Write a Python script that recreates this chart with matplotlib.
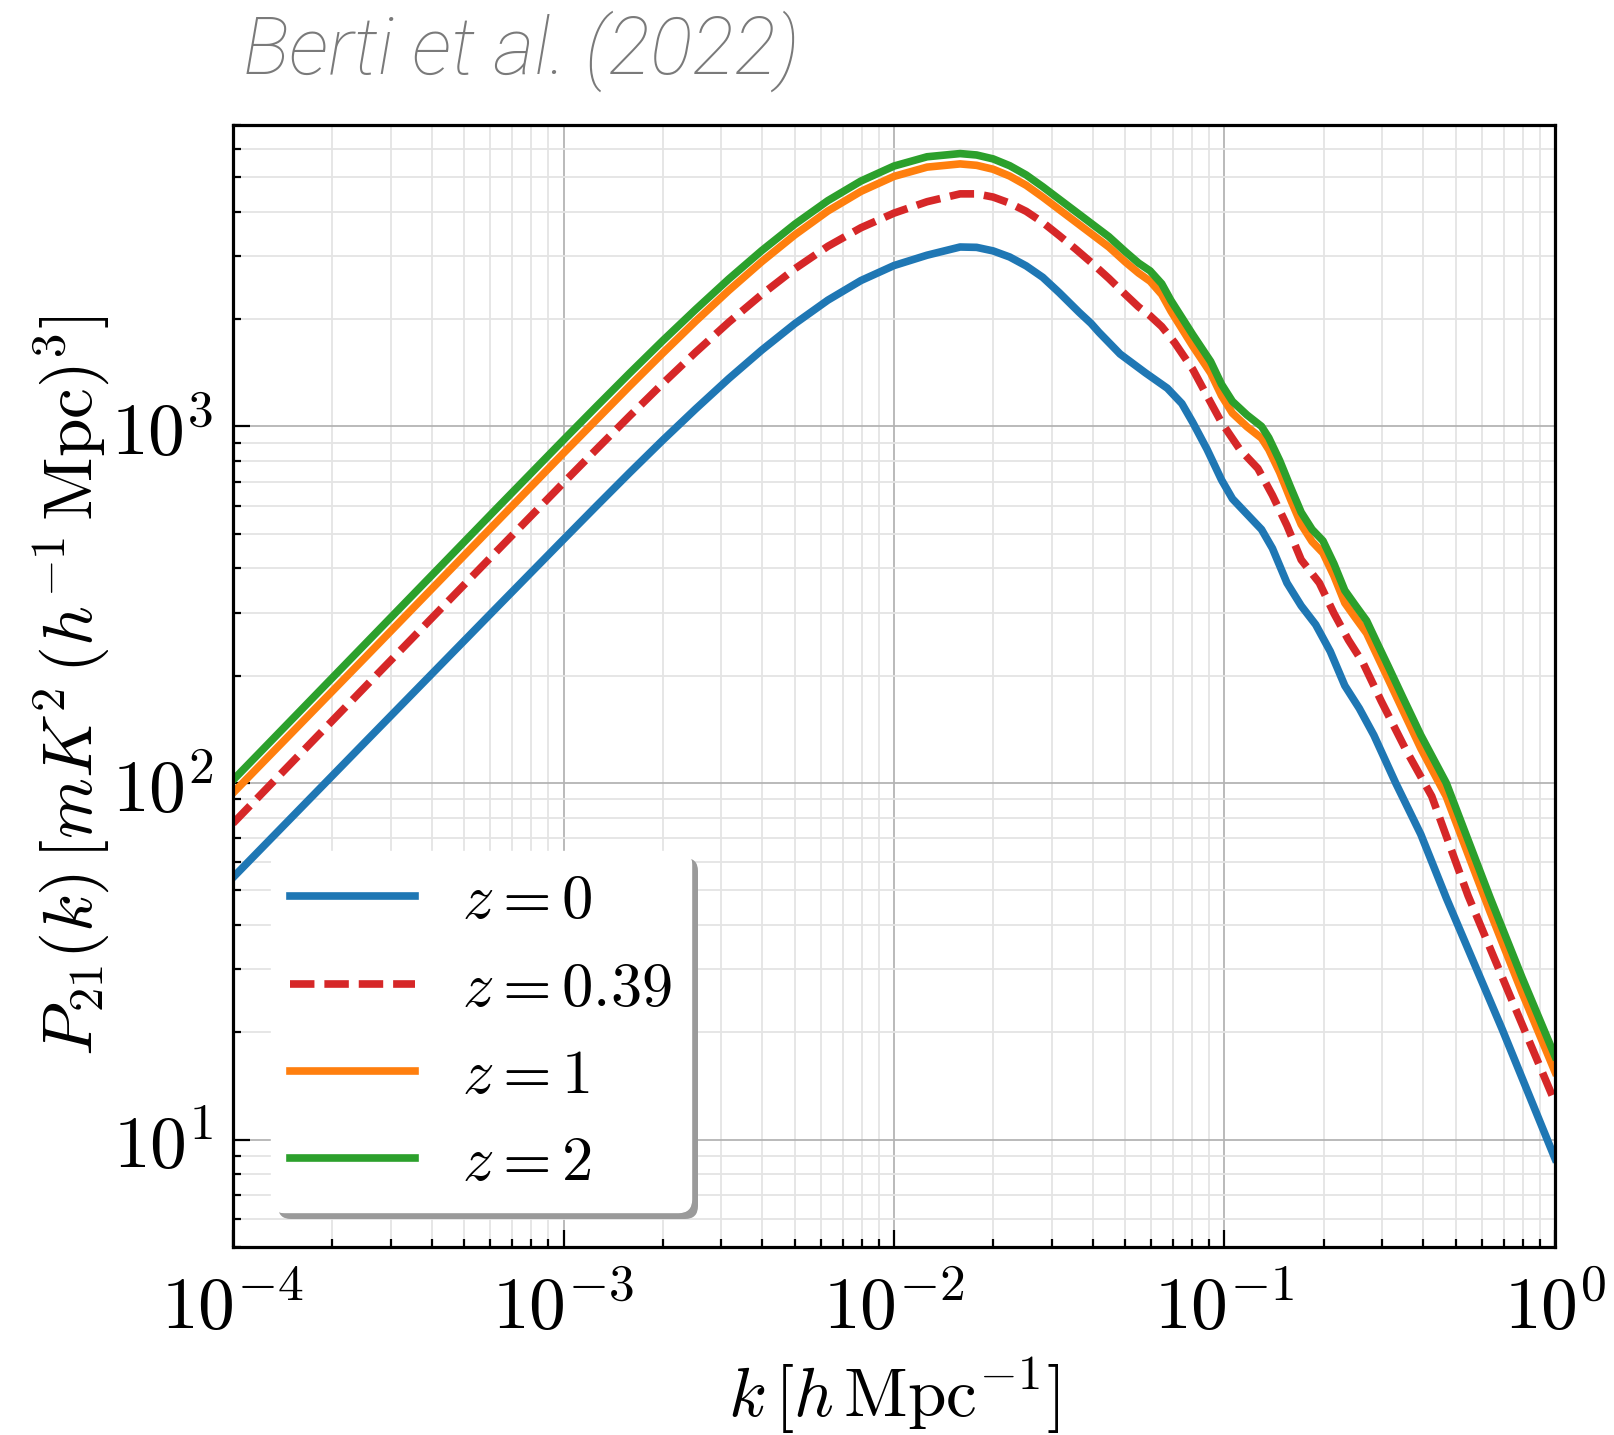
import numpy as np
import matplotlib
matplotlib.use("Agg")
import matplotlib.pyplot as plt
import matplotlib.patheffects as pe
from matplotlib.ticker import FuncFormatter

plt.rcParams["mathtext.fontset"] = "cm"
plt.rcParams["font.family"] = "serif"

# Curvas: log10(k [h/Mpc]) y log10(P21)
logk_z0 = [-4.0, -3.6, -3.2, -3.0, -2.9, -2.8, -2.7, -2.6, -2.5, -2.4, -2.3, -2.2,
           -2.1, -2.0, -1.9, -1.8, -1.75, -1.7, -1.65, -1.6, -1.55, -1.5, -1.44,
           -1.404, -1.38, -1.316, -1.239, -1.173, -1.129, -1.096, -1.053, -1.009,
           -0.976, -0.932, -0.888, -0.855, -0.811, -0.768, -0.724, -0.680, -0.636,
           -0.592, -0.548, -0.482, -0.406, -0.329, -0.16, 0.0]
logp_z0 = [1.735, 2.115, 2.494, 2.683, 2.777, 2.870, 2.961, 3.049, 3.134, 3.214,
           3.288, 3.354, 3.409, 3.451, 3.480, 3.503, 3.502, 3.492, 3.475, 3.45,
           3.418, 3.375, 3.32, 3.289, 3.264, 3.203, 3.150, 3.107, 3.064, 3.011,
           2.936, 2.850, 2.797, 2.754, 2.711, 2.658, 2.561, 2.497, 2.444, 2.369,
           2.273, 2.209, 2.134, 2.0, 1.856, 1.678, 1.31, 0.947]

logk_z039 = [-4.0, -3.6, -3.2, -3.0, -2.9, -2.8, -2.7, -2.6, -2.5, -2.4, -2.3, -2.2,
             -2.1, -2.0, -1.9, -1.8, -1.75, -1.7, -1.65, -1.6, -1.55, -1.5, -1.45,
             -1.4, -1.35, -1.3, -1.26, -1.225, -1.19, -1.151, -1.096, -1.053,
             -1.009, -0.954, -0.899, -0.855, -0.811, -0.768, -0.713, -0.669,
             -0.625, -0.581, -0.526, -0.450, -0.373, -0.263, -0.13, 0.0]
logp_z039 = [1.887, 2.27, 2.652, 2.842, 2.936, 3.029, 3.12, 3.208, 3.292, 3.37,
             3.442, 3.505, 3.557, 3.598, 3.63, 3.652, 3.652, 3.643, 3.626, 3.603,
             3.572, 3.535, 3.497, 3.457, 3.415, 3.37, 3.335, 3.31, 3.28, 3.235,
             3.160, 3.086, 3.011, 2.936, 2.882, 2.807, 2.722, 2.626, 2.561, 2.476,
             2.401, 2.337, 2.230, 2.091, 1.963, 1.684, 1.39, 1.105]

logk_z1 = [-4.0, -3.6, -3.2, -3.0, -2.9, -2.8, -2.7, -2.6, -2.5, -2.4, -2.3, -2.2,
           -2.1, -2.0, -1.9, -1.8, -1.75, -1.7, -1.65, -1.6, -1.55, -1.5, -1.45,
           -1.4, -1.35, -1.3, -1.26, -1.225, -1.19, -1.162, -1.096, -1.042, -1.009,
           -0.976, -0.932, -0.888, -0.866, -0.833, -0.800, -0.768, -0.735, -0.702,
           -0.669, -0.636, -0.603, -0.570, -0.537, -0.504, -0.461, -0.406, -0.329,
           -0.263, -0.197, -0.1, 0.0]
logp_z1 = [1.972, 2.352, 2.734, 2.925, 3.019, 3.113, 3.205, 3.295, 3.381, 3.462,
           3.537, 3.604, 3.659, 3.701, 3.727, 3.736, 3.732, 3.721, 3.702, 3.676,
           3.643, 3.608, 3.573, 3.538, 3.503, 3.461, 3.43, 3.407, 3.37, 3.323,
           3.225, 3.15, 3.086, 3.037, 2.999, 2.967, 2.935, 2.871, 2.795, 2.725,
           2.677, 2.645, 2.581, 2.505, 2.462, 2.42, 2.355, 2.29, 2.205, 2.097,
           1.962, 1.80, 1.64, 1.413, 1.19]

logk_z2 = [-4.0, -3.6, -3.2, -3.0, -2.9, -2.8, -2.7, -2.6, -2.5, -2.4, -2.3, -2.2,
           -2.1, -2.0, -1.9, -1.8, -1.75, -1.7, -1.65, -1.6, -1.55, -1.5, -1.45,
           -1.4, -1.35, -1.3, -1.26, -1.225, -1.19, -1.162, -1.096, -1.042, -1.009,
           -0.976, -0.932, -0.888, -0.866, -0.833, -0.800, -0.768, -0.735, -0.702,
           -0.669, -0.636, -0.603, -0.570, -0.537, -0.504, -0.461, -0.406, -0.329,
           -0.263, -0.197, -0.1, 0.0]
logp_z2 = [2.008, 2.390, 2.772, 2.962, 3.056, 3.149, 3.240, 3.328, 3.413, 3.493,
           3.567, 3.633, 3.688, 3.730, 3.756, 3.765, 3.761, 3.750, 3.731, 3.705,
           3.672, 3.637, 3.602, 3.567, 3.532, 3.49, 3.458, 3.436, 3.40, 3.353,
           3.257, 3.182, 3.118, 3.070, 3.032, 3.0, 2.968, 2.904, 2.829, 2.759,
           2.711, 2.679, 2.615, 2.540, 2.497, 2.455, 2.390, 2.326, 2.241, 2.134,
           2.0, 1.84, 1.68, 1.455, 1.234]

labels = [r"$z = 0$", r"$z = 0.39$", r"$z = 1$", r"$z = 2$"]
colores = ["#1f77b4", "#d62728", "#ff7f0e", "#2ca02c"]
estilos = ["-", (0, (3.2, 1.3)), "-", "-"]
curvas = [(logk_z0, logp_z0), (logk_z039, logp_z039), (logk_z1, logp_z1), (logk_z2, logp_z2)]

fig = plt.figure(figsize=(16.15, 14.35), dpi=100)
ax = fig.add_axes([233 / 1615, 1 - 1247 / 1435, 1322 / 1615, 1122 / 1435])

for (lk, lp), lab, c, ls in zip(curvas, labels, colores, estilos):
    ax.plot(10 ** np.array(lk), 10 ** np.array(lp), color=c, ls=ls, lw=5.5,
            label=lab, solid_joinstyle="round")

ax.set_xscale("log")
ax.set_yscale("log")
ax.set_xlim(1e-4, 1)
ax.set_ylim(5, 7e3)

potencia = FuncFormatter(lambda v, pos: r"$10^{%d}$" % round(np.log10(v)))
ax.xaxis.set_major_formatter(potencia)
ax.yaxis.set_major_formatter(potencia)

ax.grid(which="major", color="#b4b4b4", lw=1.3)
ax.grid(which="minor", color="#e4e4e4", lw=1.3)
ax.set_axisbelow(True)

for s in ax.spines.values():
    s.set_linewidth(2.3)
ax.tick_params(which="both", direction="in", width=1.6, labelsize=53)
ax.tick_params(which="major", length=12)
ax.tick_params(axis="x", which="major", pad=18)
ax.tick_params(axis="y", which="major", pad=14)
ax.tick_params(which="minor", length=6)

ax.set_xlabel(r"$k\,[h\,\mathrm{Mpc}^{-1}]$", fontsize=50, labelpad=8)
ax.set_ylabel(r"$P_{21}(k)\,[mK^2\,(h^{-1}\,\mathrm{Mpc})^3]$", fontsize=50, labelpad=0)

leg = ax.legend(loc="lower left", bbox_to_anchor=(0.029, 0.0312), borderaxespad=0,
                fontsize=45, fancybox=True, framealpha=1, edgecolor="white",
                handlelength=2.0, handletextpad=0.75, labelspacing=0.42, borderpad=0.3)
leg.get_frame().set_path_effects([
    pe.SimplePatchShadow(offset=(5, -5), shadow_rgbFace="#9a9a9a", alpha=1.0),
    pe.Normal()])

fig.text(243 / 1615, 1 - 51 / 1435, "Berti et al. (2022)", family="Roboto",
         style="italic", weight="light", fontsize=57, color="#7a7a7a", va="center")

fig.savefig("out.png", dpi=100)
